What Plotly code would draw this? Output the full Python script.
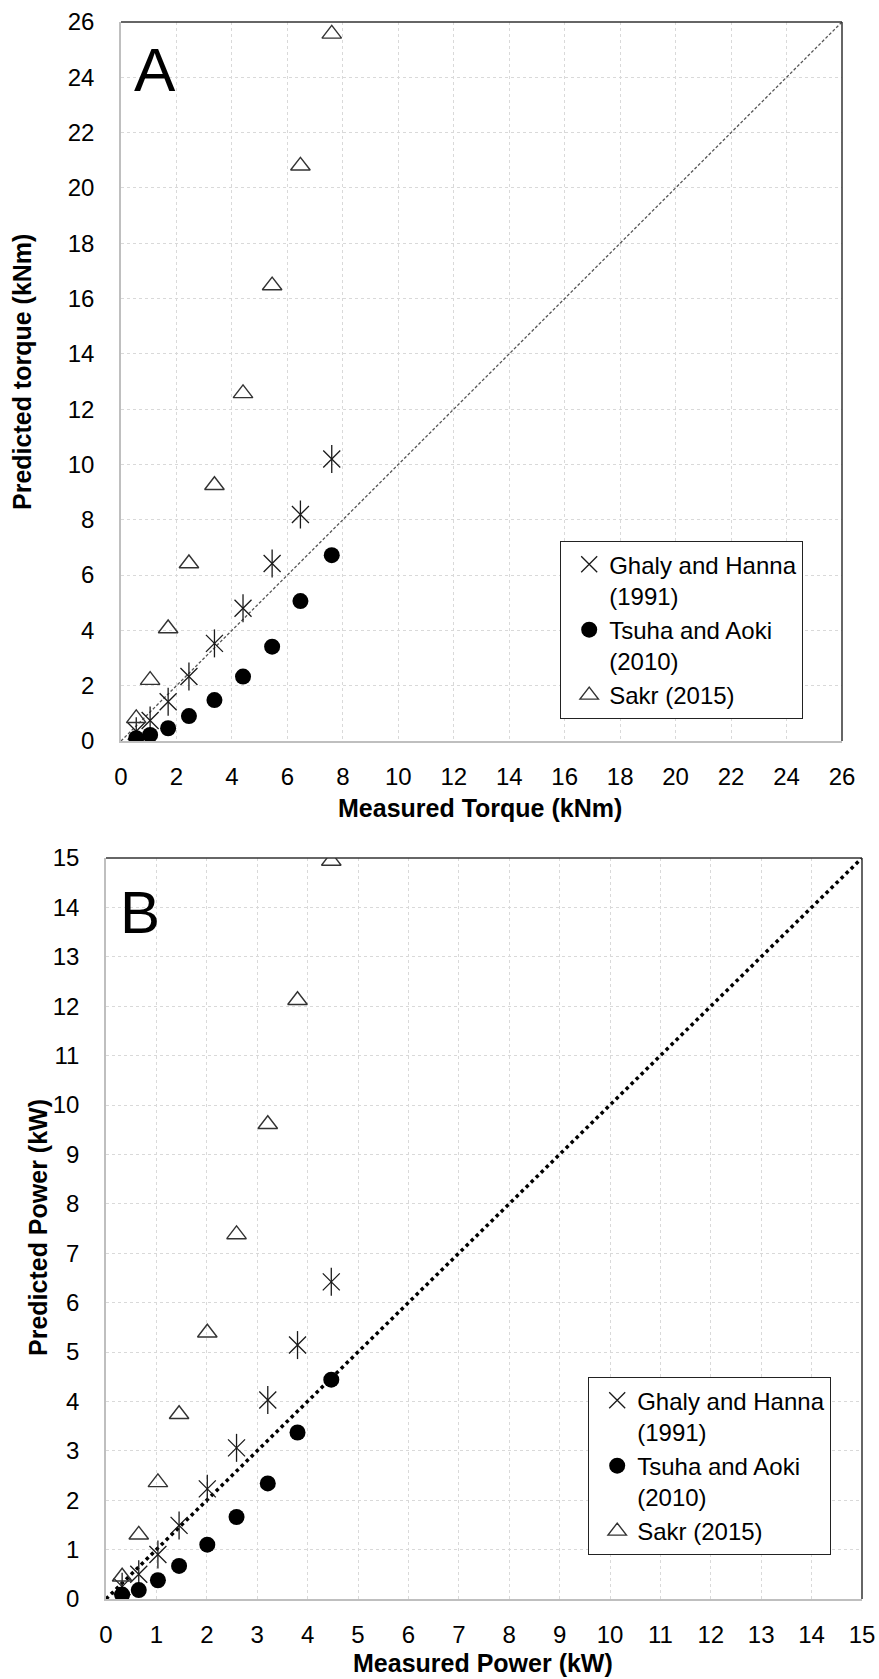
import plotly.graph_objects as go

# ---------------- data ----------------
# Panel A: torque (kNm)
torque_measured = [0.55, 1.05, 1.7, 2.45, 3.37, 4.4, 5.45, 6.47, 7.6]
torque_ghaly = [0.35, 0.74, 1.42, 2.33, 3.53, 4.8, 6.42, 8.19, 10.2]
torque_tsuha = [0.1, 0.22, 0.46, 0.9, 1.48, 2.33, 3.41, 5.06, 6.72]
torque_sakr = [0.82, 2.2, 4.07, 6.42, 9.25, 12.57, 16.47, 20.8, 25.57]
torque_line = [0, 26]
torque_ticks = list(range(0, 27, 2))

# Panel B: power (kW)
power_measured = [0.32, 0.65, 1.03, 1.45, 2.01, 2.59, 3.21, 3.8, 4.47]
power_ghaly = [0.25, 0.5, 0.9, 1.49, 2.23, 3.06, 4.03, 5.14, 6.42]
power_tsuha = [0.09, 0.18, 0.38, 0.67, 1.1, 1.66, 2.34, 3.37, 4.44]
power_sakr = [0.45, 1.3, 2.36, 3.74, 5.39, 7.38, 9.61, 12.12, 14.94]
power_line = [0, 15]
power_ticks = list(range(0, 16, 1))

names = ["Ghaly and Hanna<br>(1991)", "Tsuha and Aoki<br>(2010)", "Sakr (2015)"]

W, H = 879, 1679
FONT = "Arial, Liberation Sans, sans-serif"
STAR = "#1a1a1a"

def px_x(v):
    return v / W

def px_y(v):
    return 1 - v / H

fig = go.Figure()

def add_panel(xa, ya, legend, xs, ghaly, tsuha, sakr, line, line_style):
    # diagonal 1:1 line
    fig.add_trace(go.Scatter(x=line, y=line, mode="lines", line=line_style,
                             showlegend=False, hoverinfo="skip", xaxis=xa, yaxis=ya))
    # Ghaly and Hanna: star = x + vertical line
    fig.add_trace(go.Scatter(x=xs, y=ghaly, mode="markers", name=names[0],
                             marker=dict(symbol="x-thin-open", size=17, color=STAR,
                                         line=dict(color=STAR, width=1.3)),
                             xaxis=xa, yaxis=ya, legend=legend))
    fig.add_trace(go.Scatter(x=xs, y=ghaly, mode="markers", showlegend=False,
                             marker=dict(symbol="line-ns-open", size=20, color=STAR,
                                         line=dict(color=STAR, width=1.3)),
                             xaxis=xa, yaxis=ya))
    fig.add_trace(go.Scatter(x=xs, y=tsuha, mode="markers", name=names[1],
                             marker=dict(symbol="circle", size=16, color="black"),
                             xaxis=xa, yaxis=ya, legend=legend))
    fig.add_trace(go.Scatter(x=xs, y=sakr, mode="markers", name=names[2],
                             marker=dict(symbol="triangle-up-open", size=17,
                                         color="#333333",
                                         line=dict(color="#333333", width=1.4)),
                             xaxis=xa, yaxis=ya, legend=legend))

add_panel("x", "y", "legend", torque_measured, torque_ghaly, torque_tsuha, torque_sakr,
          torque_line, dict(color="#555555", width=1.3, dash="3px,2px"))
add_panel("x2", "y2", "legend2", power_measured, power_ghaly, power_tsuha, power_sakr,
          power_line, dict(color="black", width=3.5, dash="dot"))

axis_common = dict(
    showgrid=True, gridcolor="#d9d9d9", griddash="dot", gridwidth=1,
    zeroline=False, showline=True, linecolor="#bfbfbf", linewidth=1.5,
    ticks="", tickfont=dict(family=FONT, size=24, color="black"),
    fixedrange=True, automargin=False,
)

legend_common = dict(xanchor="left", yanchor="top",
                     bgcolor="white", bordercolor="#222222", borderwidth=1.2,
                     font=dict(family=FONT, size=24, color="black"), valign="top",
                     indentation=8, tracegroupgap=0)

fig.update_layout(
    width=W, height=H, margin=dict(l=0, r=0, t=0, b=0, autoexpand=False),
    paper_bgcolor="white", plot_bgcolor="white",
    font=dict(family=FONT, color="black"),
    xaxis=dict(axis_common, domain=[px_x(121), px_x(842)], range=[0, 26],
               tickvals=torque_ticks, ticklabelstandoff=13, anchor="y"),
    yaxis=dict(axis_common, domain=[px_y(741), px_y(22)], range=[0, 26],
               tickvals=torque_ticks, ticklabelstandoff=20, anchor="x"),
    xaxis2=dict(axis_common, domain=[px_x(106), px_x(862)], range=[0, 15],
                tickvals=power_ticks, ticklabelstandoff=13, anchor="y2"),
    yaxis2=dict(axis_common, domain=[px_y(1599), px_y(858)], range=[0, 15],
                tickvals=power_ticks, ticklabelstandoff=20, anchor="x2"),
    legend=dict(legend_common, x=px_x(560), y=px_y(541)),
    legend2=dict(legend_common, x=px_x(588), y=px_y(1377)),
)

# top and right frame lines (dark)
for xr, yr in (("x domain", "y domain"), ("x2 domain", "y2 domain")):
    fig.add_shape(type="line", xref=xr, yref=yr, x0=0, x1=1, y0=1, y1=1,
                  line=dict(color="#333333", width=1.5))
    fig.add_shape(type="line", xref=xr, yref=yr, x0=1, x1=1, y0=0, y1=1,
                  line=dict(color="#333333", width=1.5))

title_font = dict(family=FONT, size=25, color="black")
annots = [
    dict(text="<b>Measured Torque (kNm)</b>", x=px_x(480), y=px_y(808), textangle=0),
    dict(text="<b>Predicted torque (kNm)</b>", x=px_x(22), y=px_y(372), textangle=-90),
    dict(text="<b>Measured Power (kW)</b>", x=px_x(483), y=px_y(1663), textangle=0),
    dict(text="<b>Predicted Power (kW)</b>", x=px_x(38), y=px_y(1228), textangle=-90),
]
for a in annots:
    fig.add_annotation(xref="paper", yref="paper", xanchor="center", yanchor="middle",
                       showarrow=False, font=title_font, **a)

fig.add_annotation(text="A", xref="paper", yref="paper", x=px_x(132), y=px_y(70),
                   xanchor="left", yanchor="middle", showarrow=False,
                   font=dict(family=FONT, size=62, color="black"))
fig.add_annotation(text="B", xref="paper", yref="paper", x=px_x(118), y=px_y(912),
                   xanchor="left", yanchor="middle", showarrow=False,
                   font=dict(family=FONT, size=60, color="black"))

fig.write_html("out.html")
